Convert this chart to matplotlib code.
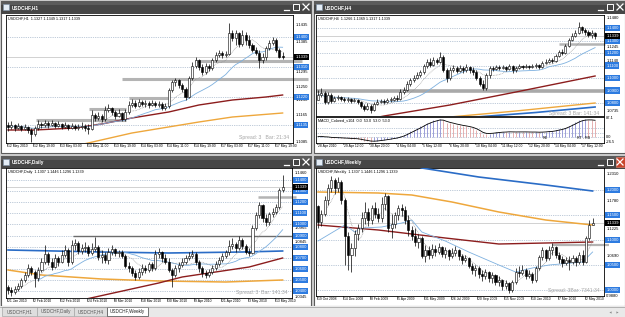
import numpy as np
import pandas as pd
import matplotlib
matplotlib.use("Agg")
import matplotlib.pyplot as plt
from matplotlib.patches import Rectangle

plt.rcParams["font.family"] = ["Liberation Sans", "DejaVu Sans"]

# prices in points (1 point = 0.0001); each bar opens at the previous close

# ---------------- USDCHF,H1 ----------------
h1_open0 = 11136
h1_close = [11130, 11136, 11127, 11133, 11124, 11130, 11121, 11109, 11127, 11139,
            11136, 11142, 11136, 11142, 11133, 11139, 11130, 11136, 11127, 11133,
            11127, 11130, 11133, 11127, 11124, 11166, 11157, 11163, 11154, 11181,
            11187, 11175, 11163, 11172, 11154, 11175, 11196, 11202, 11193, 11205,
            11199, 11202, 11196, 11202, 11196, 11199, 11187, 11193, 11241, 11265,
            11271, 11256, 11244, 11220, 11277, 11313, 11331, 11310, 11295, 11313,
            11307, 11331, 11346, 11352, 11346, 11349, 11412, 11397, 11412, 11379,
            11406, 11391, 11376, 11361, 11352, 11331, 11340, 11367, 11382, 11391,
            11361, 11340, 11339]
h1_high = [11145, 11148, 11139, 11142, 11136, 11139, 11133, 11127, 11133, 11151,
           11145, 11151, 11148, 11151, 11145, 11148, 11142, 11145, 11139, 11142,
           11139, 11139, 11145, 11139, 11139, 11181, 11172, 11175, 11169, 11193,
           11199, 11190, 11181, 11184, 11175, 11184, 11208, 11214, 11211, 11214,
           11211, 11211, 11208, 11211, 11208, 11208, 11205, 11202, 11247, 11271,
           11277, 11274, 11262, 11250, 11283, 11325, 11340, 11334, 11319, 11322,
           11319, 11337, 11355, 11361, 11358, 11358, 11442, 11421, 11421, 11415,
           11421, 11415, 11406, 11382, 11370, 11361, 11352, 11373, 11391, 11400,
           11397, 11367, 11355]
h1_low = [11118, 11124, 11118, 11124, 11118, 11121, 11112, 11085, 11103, 11121,
          11127, 11130, 11127, 11133, 11127, 11130, 11124, 11127, 11121, 11124,
          11121, 11121, 11124, 11118, 11109, 11121, 11148, 11151, 11145, 11148,
          11175, 11166, 11154, 11160, 11148, 11148, 11169, 11190, 11187, 11190,
          11193, 11190, 11187, 11193, 11190, 11190, 11181, 11181, 11187, 11235,
          11253, 11247, 11235, 11211, 11217, 11271, 11307, 11301, 11286, 11289,
          11298, 11301, 11325, 11340, 11337, 11340, 11346, 11388, 11376, 11370,
          11373, 11376, 11367, 11355, 11346, 11307, 11322, 11331, 11361, 11376,
          11355, 11337, 11334]
h1_ma100_x = [0, 8, 20, 28, 37, 48, 57, 67, 77, 82]
h1_ma100 = [11121, 11121, 11127, 11139, 11157, 11175, 11196, 11211, 11220, 11226]
h1_ma200_x = [20, 37, 57, 67, 82]
h1_ma200 = [11073, 11112, 11145, 11160, 11172]
h1_levels = [11151, 11184, 11217, 11274, 11328]
h1_level_from = [8.4, 24.2, 36.1, 34.0, 55.8]
h1_level_to = [35.2, 35.2, 47.8, 89.6, 87.8]
h1_grid = [11400, 11310, 11220, 11135]
h1_ticks = [11435, 11385, 11295, 11250, 11210, 11165, 11085]
h1_dates = ["12 May 2010", "12 May 19:00", "13 May 03:00", "13 May 11:00", "13 May 19:00",
            "14 May 03:00", "14 May 11:00", "14 May 19:00", "17 May 03:00", "17 May 11:00",
            "17 May 19:00"]

# ---------------- USDCHF,H4 ----------------
h4_open0 = 10824
h4_close = [10864, 10880, 10808, 10864, 10816, 10840, 10848, 10832, 10824, 10832,
            10816, 10824, 10808, 10776, 10752, 10776, 10744, 10792, 10808, 10816,
            10808, 10824, 10824, 10840, 10832, 10888, 10904, 10952, 10984, 11000,
            11024, 11048, 11096, 11128, 11104, 11144, 11128, 11168, 11064, 11000,
            11064, 11080, 11056, 11080, 11064, 11088, 11064, 11048, 11000, 10952,
            10920, 11024, 11080, 11072, 11088, 11080, 11088, 11072, 11096, 11064,
            11080, 11096, 11088, 11096, 11088, 11096, 11104, 11088, 11120, 11128,
            11144, 11136, 11176, 11208, 11200, 11256, 11304, 11336, 11360, 11408,
            11384, 11368, 11344, 11360, 11339]
h4_high = [10904, 10920, 10896, 10888, 10880, 10856, 10864, 10856, 10848, 10848,
           10840, 10840, 10832, 10816, 10792, 10800, 10792, 10808, 10832, 10832,
           10832, 10840, 10848, 10856, 10864, 10912, 10928, 10976, 11000, 11024,
           11048, 11064, 11112, 11152, 11160, 11168, 11160, 11208, 11184, 11080,
           11088, 11104, 11096, 11104, 11096, 11112, 11096, 11088, 11064, 11016,
           10984, 11040, 11096, 11096, 11104, 11104, 11104, 11096, 11112, 11104,
           11096, 11112, 11104, 11112, 11104, 11112, 11120, 11112, 11136, 11152,
           11160, 11160, 11192, 11224, 11232, 11272, 11320, 11360, 11384, 11448,
           11416, 11400, 11384, 11384, 11368]
h4_low = [10824, 10848, 10792, 10792, 10800, 10808, 10824, 10816, 10808, 10808,
          10800, 10808, 10792, 10760, 10736, 10744, 10720, 10736, 10784, 10800,
          10792, 10800, 10808, 10816, 10816, 10824, 10872, 10896, 10936, 10968,
          10992, 11008, 11032, 11080, 11088, 11096, 11112, 11120, 11048, 10968,
          10984, 11048, 11040, 11048, 11040, 11048, 11040, 11024, 10984, 10936,
          10904, 10904, 11000, 11056, 11064, 11064, 11072, 11056, 11064, 11040,
          11048, 11072, 11072, 11080, 11072, 11080, 11080, 11072, 11080, 11112,
          11120, 11120, 11128, 11168, 11184, 11192, 11248, 11296, 11328, 11352,
          11360, 11344, 11328, 11320, 11312]
h4_ma100_x = [17, 20, 40, 60, 84]
h4_ma100 = [10680, 10696, 10784, 10888, 11016]
h4_ma200_x = [40, 60, 84]
h4_ma200 = [10688, 10736, 10800]
h4_ma365_x = [48, 66, 84]
h4_ma365 = [10688, 10724, 10768]
h4_band = 10896
h4_level, h4_level_from, h4_level_to = 11272, 73.0, 87.0
h4_grid = [11400, 11300, 11200, 11100, 11000, 10900, 10800]
h4_ticks = [11480, 11245, 11140, 10735]
h4_dates = ["28 Apr 2010", "29 Apr 12:00", "30 Apr 20:00", "4 May 04:00", "5 May 12:00",
            "6 May 20:00", "10 May 04:00", "11 May 12:00", "12 May 20:00", "14 May 04:00",
            "17 May 12:00"]

# ---------------- USDCHF,Daily ----------------
d1_open0 = 10437
d1_close = [10410, 10392, 10419, 10446, 10500, 10545, 10608, 10572, 10518, 10590,
            10662, 10734, 10662, 10617, 10698, 10662, 10725, 10770, 10662, 10815,
            10833, 10761, 10788, 10797, 10743, 10779, 10797, 10707, 10725, 10680,
            10752, 10779, 10743, 10752, 10716, 10626, 10608, 10563, 10527, 10572,
            10608, 10590, 10644, 10608, 10734, 10752, 10698, 10662, 10590, 10545,
            10608, 10635, 10662, 10698, 10716, 10734, 10662, 10608, 10563, 10545,
            10572, 10608, 10644, 10680, 10716, 10752, 10806, 10824, 10788, 10860,
            10806, 10752, 10743, 10968, 11085, 11175, 11058, 11022, 11094, 11112,
            11157, 11310, 11339]
d1_high = [10455, 10437, 10446, 10473, 10518, 10572, 10644, 10626, 10590, 10617,
           10698, 10815, 10752, 10698, 10734, 10716, 10770, 10815, 10788, 10860,
           10869, 10851, 10824, 10842, 10815, 10833, 10887, 10815, 10770, 10752,
           10788, 10815, 10788, 10770, 10770, 10734, 10662, 10626, 10590, 10608,
           10644, 10635, 10662, 10662, 10770, 10788, 10761, 10734, 10698, 10608,
           10635, 10662, 10698, 10725, 10752, 10770, 10752, 10680, 10626, 10590,
           10599, 10635, 10671, 10707, 10743, 10770, 10860, 10878, 10842, 10896,
           10878, 10824, 10788, 10995, 11112, 11202, 11184, 11094, 11112, 11148,
           11184, 11328, 11446]
d1_low = [10374, 10356, 10374, 10401, 10428, 10482, 10527, 10545, 10437, 10491,
          10572, 10644, 10635, 10590, 10608, 10626, 10653, 10707, 10626, 10644,
          10770, 10734, 10734, 10752, 10716, 10725, 10761, 10680, 10653, 10653,
          10644, 10725, 10716, 10707, 10698, 10608, 10572, 10536, 10500, 10509,
          10545, 10563, 10572, 10581, 10590, 10698, 10662, 10644, 10572, 10437,
          10527, 10572, 10617, 10644, 10680, 10698, 10635, 10572, 10527, 10518,
          10527, 10554, 10590, 10626, 10662, 10698, 10725, 10779, 10752, 10770,
          10779, 10734, 10716, 10734, 10950, 11058, 11022, 10986, 10995, 11067,
          11094, 11139, 11296]
d1_ma100_x = [0, 28, 48, 70, 82]
d1_ma100 = [10770, 10752, 10743, 10752, 10761]
d1_ma200_x = [0, 10, 28, 45, 65, 82]
d1_ma200 = [10590, 10545, 10509, 10491, 10482, 10500]
d1_ma365_x = [22, 45, 52, 62, 72, 82]
d1_ma365 = [10320, 10473, 10527, 10572, 10617, 10698]
d1_line, d1_line_from = 10900, 19.4
d1_level, d1_level_from = 11247, 74.6
d1_grid = [11400, 11300, 11200, 11100, 11000, 10900, 10800, 10700, 10600, 10500, 10400]
d1_ticks = [11460, 10965, 10845, 10345]
d1_dates = ["21 Jan 2010", "2 Feb 2010", "12 Feb 2010", "24 Feb 2010", "8 Mar 2010",
            "18 Mar 2010", "30 Mar 2010", "9 Apr 2010", "21 Apr 2010", "3 May 2010",
            "13 May 2010"]

# ---------------- USDCHF,Weekly ----------------
w1_open0 = 11680
w1_close = [11360, 11520, 11800, 12040, 12200, 12040, 12160, 11800, 11080, 10700,
            10840, 11120, 11240, 11440, 11560, 11400, 11640, 11520, 11440, 11720,
            11880, 11240, 11320, 11500, 11640, 11600, 11400, 11200, 11080, 10960,
            11040, 10680, 10800, 10700, 10820, 10760, 10860, 10720, 10800, 10680,
            10740, 10800, 10680, 10600, 10640, 10480, 10400, 10440, 10320, 10280,
            10360, 10240, 10300, 10160, 10200, 10080, 10140, 10000, 10160, 10360,
            10340, 10400, 10280, 10320, 10200, 10440, 10660, 10800, 10640, 10800,
            10860, 10700, 10620, 10540, 10600, 10560, 10640, 10560, 10700, 10560,
            11040, 11307, 11339]
w1_high = [11700, 11600, 11880, 12120, 12280, 12240, 12260, 12200, 11840, 11160,
           10940, 11200, 11320, 11560, 11760, 11640, 11700, 11760, 11640, 11860,
           11940, 11900, 11520, 11560, 11700, 11720, 11680, 11500, 11280, 11240,
           11120, 11080, 10900, 10880, 10920, 10900, 10940, 10880, 10860, 10820,
           10840, 10880, 10820, 10720, 10700, 10660, 10540, 10500, 10480, 10400,
           10420, 10380, 10360, 10320, 10280, 10220, 10200, 10160, 10200, 10440,
           10480, 10500, 10440, 10400, 10360, 10480, 10700, 10860, 10820, 10880,
           10940, 10880, 10760, 10680, 10660, 10680, 10700, 10680, 10760, 10800,
           11080, 11400, 11446]
w1_low = [11240, 11280, 11480, 11700, 11960, 11920, 11960, 11720, 10500, 10400,
          10360, 10680, 11000, 11160, 11320, 11280, 11320, 11440, 11360, 11360,
          11600, 11160, 11040, 11240, 11400, 11480, 11320, 11080, 11000, 10880,
          10840, 10640, 10560, 10620, 10640, 10680, 10720, 10660, 10640, 10600,
          10640, 10680, 10600, 10520, 10560, 10440, 10320, 10280, 10240, 10180,
          10220, 10160, 10140, 10100, 10080, 10000, 10020, 9940, 9960, 10120,
          10260, 10300, 10220, 10240, 10140, 10160, 10400, 10600, 10580, 10600,
          10700, 10640, 10540, 10460, 10500, 10400, 10520, 10480, 10520, 10500,
          10540, 11000, 11296]
w1_ma13_x = [0, 8, 11, 13, 19, 25, 28, 31, 38, 45, 54, 59, 64, 69, 79, 82]
w1_ma13 = [10980, 11300, 11160, 11240, 11260, 11340, 11400, 11160, 10980, 10760,
           10500, 10360, 10440, 10500, 10560, 10760]
w1_ma100_x = [0, 18, 38, 54, 68, 82]
w1_ma100 = [11300, 11200, 11040, 10920, 10940, 10960]
w1_ma200_x = [0, 18, 28, 40, 54, 68, 82]
w1_ma200 = [11960, 11940, 11900, 11760, 11560, 11400, 11300]
w1_ma365_x = [28, 31, 48, 68, 82]
w1_ma365 = [12520, 12440, 12260, 12100, 11980]
w1_level, w1_level_from, w1_level_to = 10900, 70.0, 87.0
w1_grid = [12000, 11500, 11000, 10500, 10000]
w1_ticks = [12310, 11780, 11225, 10690, 9880]
w1_dates = ["19 Oct 2008", "14 Dec 2008", "8 Feb 2009", "5 Apr 2009", "31 May 2009",
            "26 Jul 2009", "20 Sep 2009", "15 Nov 2009", "10 Jan 2010", "7 Mar 2010",
            "2 May 2010"]

MAROON = "#8c1d1d"
ORANGE = "#eea73c"
LIGHTBLUE = "#7db0df"
STEEL = "#2a6cc6"
SR_GRAY = "#b4b4b4"

W, H = 625, 317
fig = plt.figure(figsize=(W / 100, H / 100), dpi=100)
fig.patch.set_facecolor("#d0d0d0")
bg = fig.add_axes([0, 0, 1, 1])
bg.set_xlim(0, W)
bg.set_ylim(H, 0)
bg.axis("off")


def px_axes(x0, y0, x1, y1):
    ax = fig.add_axes([x0 / W, 1 - y1 / H, (x1 - x0) / W, (y1 - y0) / H])
    ax.set_facecolor("white")
    ax.set_xticks([])
    ax.set_yticks([])
    for s in ax.spines.values():
        s.set_linewidth(0.6)
    return ax


def window(x0, y0, x1, y1, title, active=False):
    bg.add_patch(Rectangle((x0 + 0.5, y0 + 0.5), x1 - x0 - 1, y1 - y0 - 1,
                           fc="white", ec="#5c5c5c", lw=0.8))
    bg.add_patch(Rectangle((x0 + 0.5, y0 + 0.5), x1 - x0 - 1, 13, fc="#464646", ec="none"))
    bg.add_patch(Rectangle((x0 + 0.5, y0 + 0.5), x1 - x0 - 1, 4, fc="#5b5b5b", ec="none"))
    bg.add_patch(Rectangle((x0 + 3, y0 + 3.5), 6, 6, fc="#e4edf6", ec="#7d92aa", lw=0.4))
    bg.text(x0 + 12, y0 + 7.3, title, color="white", fontsize=3.4, fontweight="bold",
            va="center", ha="left")
    bx = x1 - 27
    bg.plot([bx, bx + 5], [y0 + 10, y0 + 10], color="white", lw=0.9)
    bg.add_patch(Rectangle((bx + 9, y0 + 4), 5.5, 5.5, fc="none", ec="white", lw=0.7))
    cx = bx + 19
    if active:
        bg.add_patch(Rectangle((cx - 1.5, y0 + 2), 9, 9.5, fc="#c9452c", ec="#e58a76", lw=0.4))
    bg.plot([cx, cx + 6], [y0 + 4, y0 + 10], color="white", lw=0.9)
    bg.plot([cx, cx + 6], [y0 + 10, y0 + 4], color="white", lw=0.9)


def candles(ax, open0, close, high, low, px):
    c = np.asarray(close) / 1e4
    o = np.r_[open0 / 1e4, c[:-1]]
    hi = np.asarray(high) / 1e4
    lo = np.asarray(low) / 1e4
    x = np.arange(len(c))
    ax.vlines(x, lo, hi, color="black", lw=0.5, zorder=4)
    bottom = np.minimum(o, c)
    height = np.maximum(np.abs(c - o), px)
    up = c >= o
    ax.bar(x[up], height[up], bottom=bottom[up], width=0.62, color="white",
           edgecolor="black", lw=0.4, zorder=5)
    ax.bar(x[~up], height[~up], bottom=bottom[~up], width=0.62, color="black",
           edgecolor="black", lw=0.4, zorder=5)
    return c


def line(ax, xs, vals, color, lw, **kw):
    ax.plot(np.asarray(xs), np.asarray(vals) / 1e4, color=color, lw=lw, zorder=3, **kw)


def grid(ax, levels):
    for p in levels:
        ax.axhline(p / 1e4, color="#8299b6", lw=0.5, ls=(0, (1, 1.6)), zorder=1)


def right_labels(ax, plain, boxed, last):
    tr = ax.get_yaxis_transform()
    kw = dict(xycoords=tr, xytext=(1.6, 0), textcoords="offset points", fontsize=3.0,
              va="center", ha="left", annotation_clip=False)
    for p in plain:
        ax.annotate(f"{p / 1e4:.4f}", (1, p / 1e4), **kw)
    for p in boxed:
        ax.annotate(f"{p / 1e4:.4f}", (1, p / 1e4), color="white",
                    bbox=dict(boxstyle="square,pad=0.25", fc="#2d7be0", ec="none"), **kw)
    ax.annotate(f"{last:.4f}", (1, last), color="white",
                bbox=dict(boxstyle="square,pad=0.25", fc="black", ec="none"), **kw)


def bottom_dates(ax, labels, step=8):
    tr = ax.get_xaxis_transform()
    for k, lab in enumerate(labels):
        xi = k * step - 0.4
        ax.plot([xi, xi], [0, -0.02], transform=tr, color="black", lw=0.4, clip_on=False)
        ax.annotate(lab, (xi, 0), xycoords=tr, xytext=(0.7, -0.9), textcoords="offset points",
                    fontsize=2.45, va="top", ha="left", annotation_clip=False)


def info(ax, text):
    ax.text(0.008, 0.988, text, transform=ax.transAxes, fontsize=2.7, va="top", ha="left",
            zorder=7)


def spread(ax, text, y=0.025):
    ax.text(0.985, y, text, transform=ax.transAxes, fontsize=3.7, va="bottom", ha="right",
            color="#a6a6a6", zorder=7)


# ---------- windows ----------
window(0, 0, 311, 153, "USDCHF,H1")
window(313, 0, 625, 153, "USDCHF,H4")
window(0, 155, 311, 306, "USDCHF,Daily")
window(313, 155, 625, 306, "USDCHF,Weekly", active=True)

# ---------- H1 ----------
ax = px_axes(6, 15, 293, 143)
ax.set_xlim(-0.6, 85.1)
ax.set_ylim(1.1082, 1.1466)
grid(ax, h1_grid)
c = np.asarray(h1_close) / 1e4
ax.axhline(c[-1], color="#cacaca", lw=0.6, zorder=1)
for lev, a, b in zip(h1_levels, h1_level_from, h1_level_to):
    ax.hlines(lev / 1e4, a, b, color=SR_GRAY, lw=2.2, zorder=2, clip_on=False)
line(ax, h1_ma100_x, h1_ma100, MAROON, 1.0)
line(ax, h1_ma200_x, h1_ma200, ORANGE, 1.0)
s = pd.Series(c)
ax.plot(s.rolling(20, min_periods=1).mean(), color=LIGHTBLUE, lw=0.6, zorder=3)
ax.plot(s.rolling(8, min_periods=1).mean(), color="#8f8f8f", lw=0.5, ls=(0, (1, 1.2)), zorder=3)
candles(ax, h1_open0, h1_close, h1_high, h1_low, 0.0384 / 128)
right_labels(ax, h1_ticks, h1_grid, c[-1])
bottom_dates(ax, h1_dates)
info(ax, "USDCHF,H1  1.1327 1.1349 1.1317 1.1339")
spread(ax, "Spread: 3   Bar: 21:34")

# ---------- H4 ----------
ax = px_axes(316, 15, 604, 116)
ax.set_xlim(-0.6, 86.7)
ax.set_ylim(1.0696, 1.1504)
grid(ax, h4_grid)
c4 = np.asarray(h4_close) / 1e4
ax.axhline(c4[-1], color="#cacaca", lw=0.6, zorder=1)
ax.axhline(h4_band / 1e4, color="#a9a9a9", lw=2.6, zorder=2)
ax.hlines(h4_level / 1e4, h4_level_from, h4_level_to, color=SR_GRAY, lw=1.8, zorder=2,
          clip_on=False)
line(ax, h4_ma100_x, h4_ma100, MAROON, 1.0)
line(ax, h4_ma200_x, h4_ma200, ORANGE, 1.0)
line(ax, h4_ma365_x, h4_ma365, STEEL, 1.2)
s4 = pd.Series(c4)
ax.plot(s4.rolling(20, min_periods=1).mean(), color=LIGHTBLUE, lw=0.6, zorder=3)
ax.plot(s4.rolling(8, min_periods=1).mean(), color="#8f8f8f", lw=0.5, ls=(0, (1, 1.2)), zorder=3)
candles(ax, h4_open0, h4_close, h4_high, h4_low, 0.0808 / 101)
right_labels(ax, h4_ticks, h4_grid, c4[-1])
info(ax, "USDCHF,H4  1.1266 1.1369 1.1317 1.1339")
spread(ax, "Spread: 3 Bar: 141:34", y=0.0)

axm = px_axes(316, 117, 604, 143)
axm.set_xlim(-0.6, 86.7)
pts = pd.Series(np.asarray(h4_close, dtype=float))
macd = pts.ewm(span=12, adjust=False).mean() - pts.ewm(span=26, adjust=False).mean()
sig = macd.ewm(span=3, adjust=False).mean()
rng = macd.max() / 0.67
lo, hi = -0.25 * rng, 0.75 * rng
axm.set_ylim(lo, hi)
for f in (0.25, 0.4, 0.58):
    axm.axhline(lo + f * (hi - lo), color="#8299b6", lw=0.5, ls=(0, (1, 1.6)), zorder=1)
xm = np.arange(len(macd))
cols = np.where(macd.diff().fillna(0) >= 0, "#8d8fd2", "#e2a3a3")
axm.vlines(xm, 0, macd, colors=cols, lw=0.6, zorder=2)
axm.plot(xm, sig, color="black", lw=0.6, zorder=3)
axm.text(0.008, 0.96, "MACD_Colored_v104  0.0  53.0  53.0  53.0", transform=axm.transAxes,
         fontsize=2.7, va="top", ha="left")
axm.text(69, lo + 0.2 * (hi - lo), "R4", fontsize=2.7, ha="center", va="center")
axm.text(80.5, lo + 0.2 * (hi - lo), "RT - RB", fontsize=2.7, ha="center", va="center")
trm = axm.get_yaxis_transform()
for v in (hi * 0.93, 0.0, lo * 0.85):
    axm.annotate(f"{v:.1f}", (1, v), xycoords=trm, xytext=(1.6, 0), textcoords="offset points",
                 fontsize=2.9, va="center", ha="left", annotation_clip=False)
bottom_dates(axm, h4_dates)

# ---------- Daily ----------
ax = px_axes(6, 168, 292, 298)
ax.set_xlim(-0.6, 84.8)
ax.set_ylim(1.0338, 1.1508)
grid(ax, d1_grid)
cd = np.asarray(d1_close) / 1e4
ax.axhline(cd[-1], color="#cacaca", lw=0.6, zorder=1)
ax.hlines(d1_line / 1e4, d1_line_from, 84.8, color="#6c6c6c", lw=1.0, zorder=2)
ax.hlines(d1_level / 1e4, d1_level_from, 86.0, color=SR_GRAY, lw=1.8, zorder=2, clip_on=False)
line(ax, d1_ma100_x, d1_ma100, STEEL, 1.2)
line(ax, d1_ma200_x, d1_ma200, ORANGE, 1.1)
line(ax, d1_ma365_x, d1_ma365, MAROON, 1.0)
sd = pd.Series(cd)
ax.plot(sd.rolling(20, min_periods=10).mean(), color=LIGHTBLUE, lw=0.6, zorder=3)
ax.plot(sd.rolling(8, min_periods=1).mean(), color="#8f8f8f", lw=0.5, ls=(0, (1, 1.2)), zorder=3)
candles(ax, d1_open0, d1_close, d1_high, d1_low, 0.117 / 130)
right_labels(ax, d1_ticks, d1_grid, cd[-1])
bottom_dates(ax, d1_dates)
info(ax, "USDCHF,Daily  1.1307 1.1446 1.1296 1.1339")
spread(ax, "Spread: 3  Bar: 141:34")

# ---------- Weekly ----------
ax = px_axes(316, 168, 604, 296)
ax.set_xlim(-0.6, 85.4)
ax.set_ylim(0.9880, 1.2440)
grid(ax, w1_grid)
cw = np.asarray(w1_close) / 1e4
ax.axhline(cw[-1], color="#cacaca", lw=0.6, zorder=1)
ax.hlines(w1_level / 1e4, w1_level_from, w1_level_to, color=SR_GRAY, lw=1.6, zorder=2,
          clip_on=False)
line(ax, w1_ma365_x, w1_ma365, STEEL, 1.2)
line(ax, w1_ma200_x, w1_ma200, ORANGE, 1.1)
line(ax, w1_ma100_x, w1_ma100, MAROON, 1.0)
line(ax, w1_ma13_x, w1_ma13, LIGHTBLUE, 0.6)
sw = pd.Series(cw)
ax.plot(sw.rolling(5, min_periods=1).mean(), color="#8f8f8f", lw=0.5, ls=(0, (1, 1.2)), zorder=3)
candles(ax, w1_open0, w1_close, w1_high, w1_low, 0.256 / 128)
right_labels(ax, w1_ticks, w1_grid, cw[-1])
bottom_dates(ax, w1_dates)
info(ax, "USDCHF,Weekly  1.1307 1.1446 1.1296 1.1339")
spread(ax, "Spread: 3Bar: 7341:34")

# ---------- tab bar ----------
bg.add_patch(Rectangle((0, 306), W, 11, fc="#e9e9e9", ec="none"))
bg.plot([0, W], [306.5, 306.5], color="#9a9a9a", lw=0.5)
tabs = ["USDCHF,H1", "USDCHF,Daily", "USDCHF,H4", "USDCHF,Weekly"]
tab_x = [2, 37, 74, 107, 148]
for k, name in enumerate(tabs):
    act = k == 3
    x0, x1 = tab_x[k], tab_x[k + 1]
    bg.add_patch(Rectangle((x0, 307), x1 - x0, 9, fc="white" if act else "#dedede",
                           ec="#444444" if act else "#a8a8a8", lw=0.5))
    bg.text((x0 + x1) / 2, 311.6, name, ha="center", va="center", fontsize=3.3,
            color="#222222" if act else "#555555")
bg.plot([610], [311.6], marker="<", ms=1.6, color="#8a8a8a", mec="none")
bg.plot([617], [311.6], marker=">", ms=1.6, color="#8a8a8a", mec="none")

fig.savefig("out.png", dpi=100)
